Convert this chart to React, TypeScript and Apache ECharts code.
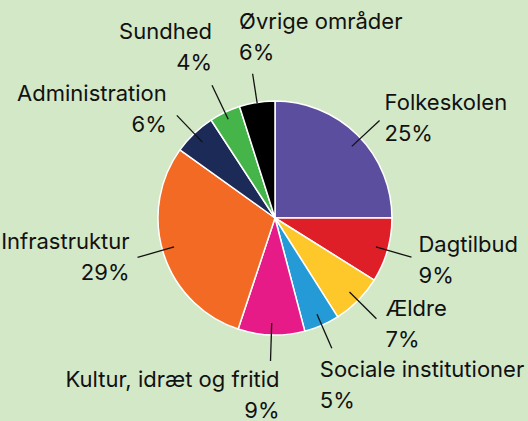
import React, { useEffect, useRef } from "react";
import * as echarts from "echarts";

const categories = [
  "Folkeskolen",
  "Dagtilbud",
  "Ældre",
  "Sociale institutioner",
  "Kultur, idræt og fritid",
  "Infrastruktur",
  "Administration",
  "Sundhed",
  "Øvrige områder",
];
// slice sizes as drawn
const shares = [25, 8.9, 7.1, 4.9, 9.2, 29.8, 5.9, 4.3, 4.9];
// percentages as printed in the labels
const labelPct = [25, 9, 7, 5, 9, 29, 6, 4, 6];
const colors = [
  "#5b4e9f",
  "#df1f27",
  "#fec82a",
  "#249bd6",
  "#e61b88",
  "#f26a23",
  "#1b2a57",
  "#46b549",
  "#000000",
];

// label placement relative to the end of each leader line
type Place = { dx: number; dy: number; align: string; va: string; len: number; start: number; rot: number };
const placement: Place[] = [
  { dx: 5, dy: -2.5, align: "left", va: "middle", len: 38, start: 0, rot: 2 },
  { dx: 7, dy: 2, align: "left", va: "middle", len: 37, start: 0, rot: 0 },
  { dx: 9, dy: 5, align: "left", va: "middle", len: 38, start: 0, rot: 0 },
  { dx: -12, dy: 5, align: "left", va: "top", len: 37, start: 0, rot: 0 },
  { dx: 9, dy: 3, align: "right", va: "top", len: 38, start: 0, rot: 0 },
  { dx: -8, dy: -0.5, align: "right", va: "middle", len: 38, start: 0, rot: 2 },
  { dx: -10, dy: -6.5, align: "right", va: "middle", len: 37, start: 0, rot: 0 },
  { dx: 0, dy: -8, align: "right", va: "bottom", len: 42, start: 0.1, rot: 0 },
  { dx: -13.5, dy: -6.5, align: "left", va: "bottom", len: 41, start: 0.27, rot: 0 },
];

const FONT = "Inter";
const CX = 275;
const CY = 218;

function rotate(pt: number[], deg: number) {
  const a = (deg * Math.PI) / 180;
  const x = pt[0] - CX;
  const y = pt[1] - CY;
  return [CX + x * Math.cos(a) - y * Math.sin(a), CY + x * Math.sin(a) + y * Math.cos(a)];
}

export default function App() {
  const ref = useRef<HTMLDivElement>(null);
  useEffect(() => {
    if (!ref.current) return;
    const chart = echarts.init(ref.current, null, { renderer: "svg" });
    const center = [CX, CY];
    chart.setOption({
      animation: false,
      backgroundColor: "#d3e8c7",
      series: [
        {
          type: "pie",
          center,
          radius: [0, 117],
          startAngle: 90,
          clockwise: true,
          silent: true,
          label: { show: false },
          labelLine: { show: false },
          itemStyle: { borderColor: "#ffffff", borderWidth: 1.5 },
          emphasis: { disabled: true },
          data: categories.map((name, i) => ({
            name,
            value: shares[i],
            itemStyle: { color: colors[i] },
          })),
        },
        {
          type: "pie",
          center,
          radius: [0, 105],
          startAngle: 90,
          clockwise: true,
          silent: true,
          z: 5,
          avoidLabelOverlap: false,
          emphasis: { disabled: true },
          itemStyle: { color: "rgba(0,0,0,0)", borderWidth: 0 },
          label: {
            show: true,
            position: "outside",
            formatter: (p: any) => `${p.name}\n${labelPct[p.dataIndex]}%`,
            fontFamily: FONT,
            fontSize: 22,
            lineHeight: 31,
            color: "#111111",
            overflow: "none",
          },
          labelLine: {
            show: true,
            length: 38,
            length2: 0,
            smooth: false,
            lineStyle: { color: "#111111", width: 1.3 },
          },
          labelLayout: (params: any) => {
            const p = placement[params.dataIndex];
            const pts = params.labelLinePoints;
            if (!pts || !p) return {};
            const p0 = rotate(pts[0], p.rot);
            const p1 = rotate(pts[1], p.rot);
            const s = [p0[0] + (p1[0] - p0[0]) * p.start, p0[1] + (p1[1] - p0[1]) * p.start];
            return {
              x: p1[0] + p.dx,
              y: p1[1] + p.dy,
              align: p.align,
              verticalAlign: p.va,
              labelLinePoints: [s, [p1[0], p1[1]], [p1[0], p1[1]]],
            };
          },
          data: categories.map((name, i) => ({
            name,
            value: shares[i],
            labelLine: { length: placement[i].len },
          })),
        },
      ],
    });
    return () => chart.dispose();
  }, []);
  return (
    <div
      ref={ref}
      style={{ position: "fixed", left: 0, top: 0, width: 528, height: 421 }}
    />
  );
}
